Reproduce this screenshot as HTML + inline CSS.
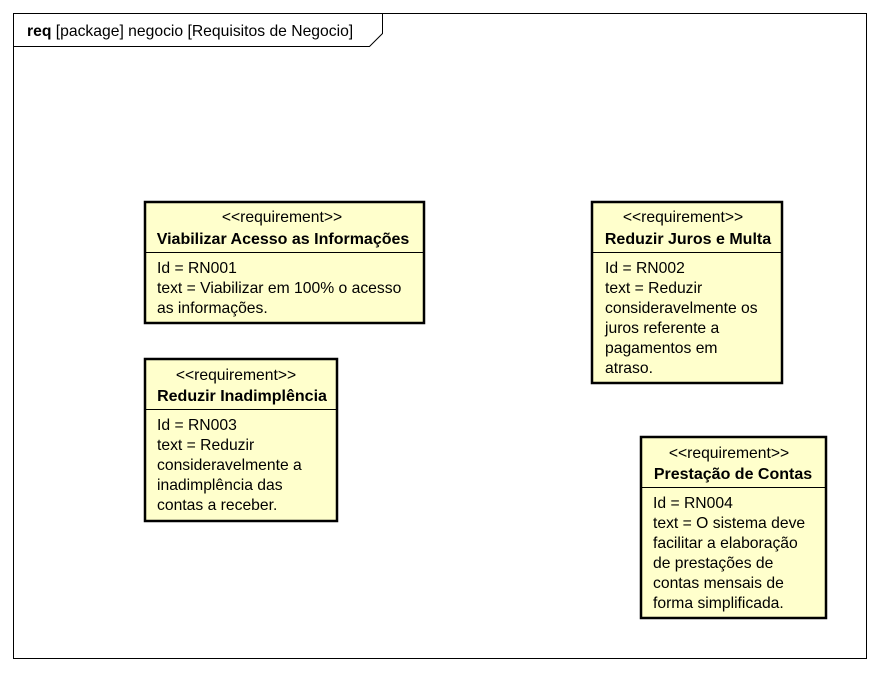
<!DOCTYPE html>
<html><head><meta charset="utf-8"><style>
body{margin:0;background:#fff}
svg text{font-family:"Liberation Sans",sans-serif;font-size:15.7px;fill:#000}
.b{font-weight:bold;font-size:16px}
</style></head><body>
<svg width="880" height="672" xmlns="http://www.w3.org/2000/svg">
<rect x="13.5" y="13.5" width="853" height="645" fill="#fff" stroke="#000" stroke-width="1"/>
<path d="M13.5 46.5 H369.5 L382.5 33.5 V13.5" fill="none" stroke="#000"/>
<text x="27" y="36"><tspan style="font-weight:bold">req</tspan> [package] negocio [Requisitos de Negocio]</text>

<g stroke="#000" stroke-width="2.5" fill="#ffffcc">
<rect x="145" y="202" width="279" height="121"/>
<rect x="592" y="202" width="190" height="181"/>
<rect x="145" y="359" width="192" height="162"/>
<rect x="641" y="437" width="185" height="181"/>
</g>
<g stroke="#000" stroke-width="1">
<line x1="145" y1="252.5" x2="424" y2="252.5"/>
<line x1="592" y1="252.5" x2="782" y2="252.5"/>
<line x1="145" y1="409.5" x2="337" y2="409.5"/>
<line x1="641" y1="487.5" x2="826" y2="487.5"/>
</g>

<text x="282" y="222" text-anchor="middle">&lt;&lt;requirement&gt;&gt;</text>
<text x="283" y="244" text-anchor="middle" class="b">Viabilizar Acesso as Informações</text>
<text x="157" y="273">Id = RN001</text>
<text x="157" y="293">text = Viabilizar em 100% o acesso</text>
<text x="157" y="313">as informações.</text>

<text x="683" y="222" text-anchor="middle">&lt;&lt;requirement&gt;&gt;</text>
<text x="688" y="244" text-anchor="middle" class="b">Reduzir Juros e Multa</text>
<text x="605" y="273">Id = RN002</text>
<text x="605" y="293">text = Reduzir</text>
<text x="605" y="313">consideravelmente os</text>
<text x="605" y="333">juros referente a</text>
<text x="605" y="353">pagamentos em</text>
<text x="605" y="373">atraso.</text>

<text x="236" y="380" text-anchor="middle">&lt;&lt;requirement&gt;&gt;</text>
<text x="242" y="401" text-anchor="middle" class="b">Reduzir Inadimplência</text>
<text x="157" y="430">Id = RN003</text>
<text x="157" y="450">text = Reduzir</text>
<text x="157" y="470">consideravelmente a</text>
<text x="157" y="490">inadimplência das</text>
<text x="157" y="510">contas a receber.</text>

<text x="729" y="458" text-anchor="middle">&lt;&lt;requirement&gt;&gt;</text>
<text x="733" y="479" text-anchor="middle" class="b">Prestação de Contas</text>
<text x="653" y="508">Id = RN004</text>
<text x="653" y="528">text = O sistema deve</text>
<text x="653" y="548">facilitar a elaboração</text>
<text x="653" y="568">de prestações de</text>
<text x="653" y="588">contas mensais de</text>
<text x="653" y="608">forma simplificada.</text>
</svg>
</body></html>
